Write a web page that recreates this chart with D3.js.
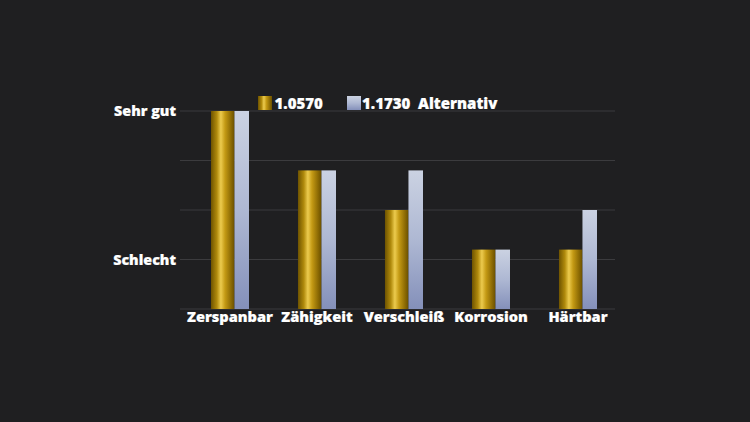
<!DOCTYPE html>
<html><head><meta charset="utf-8">
<script src="https://cdn.jsdelivr.net/npm/d3@7"></script>
<style>
html,body{margin:0;padding:0;background:#1f1f21;}
svg{display:block;}
text{font-family:"Open Sans","Noto Sans",sans-serif;font-weight:800;fill:#ffffff;stroke:#ffffff;stroke-width:0.2px;}
</style></head>
<body>
<svg id="c" width="750" height="422"></svg>
<script>
const categories = ["Zerspanbar","Zähigkeit","Verschleiß","Korrosion","Härtbar"];
const series1Name = "1.0570";
const series2Name = "1.1730  Alternativ";
const series1 = [4, 2.8, 2, 1.2, 1.2];
const series2 = [4, 2.8, 2.8, 1.2, 2];
const tickValues = [0, 1, 2, 3, 4];
const tickLabels = ["", "Schlecht", "", "", "Sehr gut"];

const svg = d3.select("#c");
const W = 750, H = 422;
svg.append("rect").attr("width", W).attr("height", H).attr("fill", "#1f1f21");

const defs = svg.append("defs");
const g1 = defs.append("linearGradient").attr("id","gold").attr("x1","0").attr("x2","1").attr("y1","0").attr("y2","0");
[["0%","#6e5300"],["25%","#b08a0c"],["42%","#eccb4e"],["60%","#c49a14"],["85%","#8d6b04"],["100%","#6a5000"]]
  .forEach(s=>g1.append("stop").attr("offset",s[0]).attr("stop-color",s[1]));
const g2 = defs.append("linearGradient").attr("id","blue").attr("x1","0").attr("x2","0").attr("y1","0").attr("y2","1");
[["0%","#cbd2e2"],["50%","#aeb8d3"],["100%","#8490ba"]]
  .forEach(s=>g2.append("stop").attr("offset",s[0]).attr("stop-color",s[1]));

const x = d3.scaleBand().domain(categories).range([180, 615]).padding(0);
const y = d3.scaleLinear().domain([0, 4]).range([309, 111]);

// gridlines
svg.append("g").selectAll("line").data(tickValues).join("line")
  .attr("x1", 180).attr("x2", 615)
  .attr("y1", d => y(d)).attr("y2", d => y(d))
  .attr("stroke", "#3b3b3e").attr("stroke-width", 1.2);

// y labels
svg.append("g").selectAll("text").data(tickValues).join("text")
  .attr("x", 176).attr("y", d => y(d)).attr("dy", "0.35em")
  .attr("text-anchor", "end").attr("font-size", 14.3)
  .text((d,i) => tickLabels[i]);

const bw = x.bandwidth();
const goldOff = bw * 0.356, goldW = bw * 0.27;
const blueOff = goldOff + goldW, blueW = bw * 0.167;

svg.append("g").selectAll("rect").data(categories).join("rect")
  .attr("x", (d) => x(d) + goldOff).attr("width", goldW)
  .attr("y", (d,i) => y(series1[i])).attr("height", (d,i) => y(0) - y(series1[i]))
  .attr("fill", "url(#gold)");
svg.append("g").selectAll("rect").data(categories).join("rect")
  .attr("x", (d) => x(d) + blueOff).attr("width", blueW)
  .attr("y", (d,i) => y(series2[i])).attr("height", (d,i) => y(0) - y(series2[i]))
  .attr("fill", "url(#blue)");

// x labels
svg.append("g").selectAll("text").data(categories).join("text")
  .attr("x", d => x(d) + goldOff + (goldW + blueW)/2)
  .attr("y", 322).attr("text-anchor", "middle").attr("font-size", 14.6)
  .text(d => d);

// legend
const leg = svg.append("g");
leg.append("rect").attr("x", 258).attr("y", 96).attr("width", 14).attr("height", 14).attr("fill", "url(#gold)");
leg.append("text").attr("x", 274.5).attr("y", 108.5).attr("font-size", 15).text(series1Name);
leg.append("rect").attr("x", 347).attr("y", 96).attr("width", 14).attr("height", 14).attr("fill", "url(#blue)");
leg.append("text").attr("x", 362).attr("y", 108.5).attr("font-size", 15).attr("xml:space","preserve").style("white-space","pre").text(series2Name);
</script>
</body></html>
